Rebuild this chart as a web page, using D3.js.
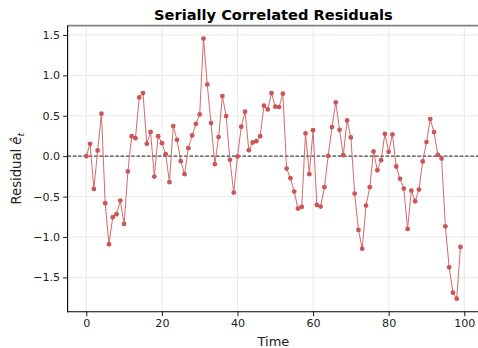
<!DOCTYPE html>
<html>
<head>
<meta charset="utf-8">
<script src="https://cdn.jsdelivr.net/npm/d3@7"></script>
<style>
  html, body { margin: 0; padding: 0; background: #fff; }
  svg { display: block; font-family: "DejaVu Sans", sans-serif; }
</style>
</head>
<body>
<svg id="chart" width="478" height="348"></svg>
<script>
const title = "Serially Correlated Residuals";
const xLabel = "Time";
const xTicks = [0, 20, 40, 60, 80, 100];
const yTicks = [-1.5, -1.0, -0.5, 0.0, 0.5, 1.0, 1.5];
const residuals = [
  0.0, 0.153, -0.405, 0.07, 0.525, -0.583, -1.09, -0.756, -0.719, -0.55,
  -0.839, -0.19, 0.248, 0.223, 0.727, 0.781, 0.153, 0.30, -0.252, 0.248,
  0.161, 0.025, -0.322, 0.372, 0.202, -0.062, -0.223, 0.099, 0.256, 0.40,
  0.517, 1.455, 0.888, 0.409, -0.099, 0.236, 0.744, 0.496, -0.045, -0.45,
  -0.004, 0.364, 0.55, 0.074, 0.169, 0.186, 0.248, 0.624, 0.579, 0.781,
  0.612, 0.607, 0.773, -0.153, -0.273, -0.438, -0.649, -0.628, 0.281, -0.223,
  0.322, -0.603, -0.624, -0.384, 0.004, 0.36, 0.665, 0.326, 0.012, 0.442,
  0.231, -0.463, -0.913, -1.145, -0.612, -0.384, 0.058, -0.174, -0.05, 0.277,
  0.054, 0.269, -0.128, -0.281, -0.401, -0.901, -0.426, -0.558, -0.413, -0.066,
  0.174, 0.459, 0.298, 0.017, -0.029, -0.868, -1.376, -1.69, -1.764, -1.124
];
const times = residuals.map((_, i) => i);

const svg = d3.select("#chart");
const pLeft = 67.6, pRight = 479.2, pTop = 25.6, pBottom = 311.7;

const tExt = d3.extent(times), rExt = d3.extent(residuals);
const tPad = (tExt[1] - tExt[0]) * 0.05, rPad = (rExt[1] - rExt[0]) * 0.05;
const x = d3.scaleLinear().domain([tExt[0] - tPad, tExt[1] + tPad]).range([pLeft, pRight]);
const y = d3.scaleLinear().domain([rExt[0] - rPad, rExt[1] + rPad]).range([pBottom, pTop]);

// grid
const grid = svg.append("g");
grid.selectAll("line.gx").data(xTicks).join("line")
  .attr("x1", d => x(d)).attr("x2", d => x(d)).attr("y1", pTop).attr("y2", pBottom)
  .attr("stroke", "#e6e6e6").attr("stroke-width", 0.9);
grid.selectAll("line.gy").data(yTicks).join("line")
  .attr("y1", d => y(d)).attr("y2", d => y(d)).attr("x1", pLeft).attr("x2", pRight)
  .attr("stroke", "#e6e6e6").attr("stroke-width", 0.9);

// zero line
svg.append("line")
  .attr("x1", pLeft).attr("x2", pRight).attr("y1", y(0)).attr("y2", y(0))
  .attr("stroke", "#444").attr("stroke-width", 1.1).attr("stroke-dasharray", "3.5,1.8");

// series
const line = d3.line().x((d, i) => x(times[i])).y(d => y(d));
svg.append("path").datum(residuals)
  .attr("d", line).attr("fill", "none")
  .attr("stroke", "#d46a6a").attr("stroke-width", 1.0);
svg.append("g").selectAll("circle").data(residuals).join("circle")
  .attr("cx", (d, i) => x(times[i])).attr("cy", d => y(d)).attr("r", 2.4)
  .attr("fill", "#cd5555");

// spines
svg.append("line").attr("x1", pLeft).attr("x2", pRight).attr("y1", pTop).attr("y2", pTop)
  .attr("stroke", "#808080").attr("stroke-width", 1.6);
svg.append("line").attr("x1", pLeft).attr("x2", pLeft).attr("y1", pTop).attr("y2", pBottom + 0.5)
  .attr("stroke", "#000").attr("stroke-width", 1.1);
svg.append("line").attr("x1", pLeft - 0.5).attr("x2", pRight).attr("y1", pBottom).attr("y2", pBottom)
  .attr("stroke", "#000").attr("stroke-width", 1.1);

// axes
const xAxis = d3.axisBottom(x).tickValues(xTicks).tickSize(4.5).tickPadding(3).tickFormat(d3.format("d"));
const gx = svg.append("g").attr("transform", `translate(0,${pBottom})`).call(xAxis);
const yAxis = d3.axisLeft(y).tickValues(yTicks).tickSize(4.5).tickPadding(3)
  .tickFormat(d => d3.format(".1f")(d).replace("-", "\u2212"));
const gy = svg.append("g").attr("transform", `translate(${pLeft},0)`).call(yAxis);
[gx, gy].forEach(g => {
  g.select(".domain").remove();
  g.selectAll(".tick line").attr("stroke", "#000").attr("stroke-width", 0.9);
  g.selectAll(".tick text").attr("fill", "#222").attr("font-size", 11.1)
    .attr("font-family", "DejaVu Sans");
});

// title (sized to the reference width of ~239px)
const tt = svg.append("text").attr("x", (pLeft + pRight) / 2).attr("y", 19.5)
  .attr("text-anchor", "middle").attr("font-weight", "bold").attr("font-size", 13.6)
  .attr("fill", "#000").text(title);
const tLen = tt.node().getComputedTextLength();
if (tLen > 0) tt.attr("font-size", Math.min(16, 13.6 * 239 / tLen));

// x label
svg.append("text").attr("x", (pLeft + pRight) / 2).attr("y", 345.5)
  .attr("text-anchor", "middle").attr("font-size", 13).attr("fill", "#222").text(xLabel);

// y label
const yl = svg.append("text")
  .attr("transform", `translate(21,${(pTop + pBottom) / 2}) rotate(-90)`)
  .attr("text-anchor", "middle").attr("font-size", 13.2).attr("fill", "#222");
yl.append("tspan").text("Residual ");
yl.append("tspan").attr("font-style", "italic").text("\u00ea");
yl.append("tspan").attr("font-style", "italic").attr("font-size", 9.5).attr("dy", 3).text("t");
</script>
</body>
</html>
